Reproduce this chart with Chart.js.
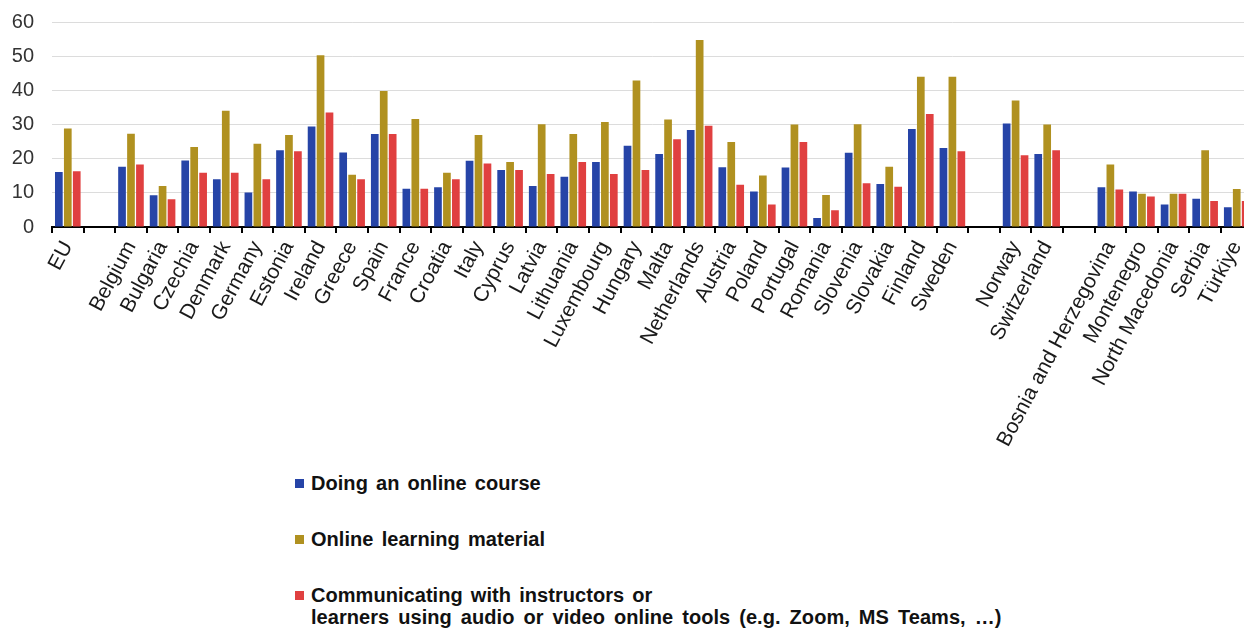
<!DOCTYPE html>
<html>
<head>
<meta charset="utf-8">
<script src="https://cdn.jsdelivr.net/npm/chart.js@4/dist/chart.umd.min.js"></script>
<style>
  html, body { margin: 0; padding: 0; background: #ffffff; overflow: hidden; width: 1244px; height: 630px; }
  #wrap { position: absolute; left: 0; top: -8px; width: 1263px; height: 463px; }
  #legend { position: absolute; left: 295px; top: 472px; font-family: "Liberation Sans", Arial, sans-serif; font-weight: bold; font-size: 20px; letter-spacing: 0.05px; word-spacing: 2.5px; color: #111; }
  .item { position: relative; padding-left: 16px; line-height: 22px; margin-bottom: 34px; white-space: nowrap; }
  .item .l2 { word-spacing: 3.4px; }
  .sw { position: absolute; left: 0; top: 7px; width: 9px; height: 9px; }
</style>
</head>
<body>
<div id="wrap"><canvas id="c"></canvas></div>
<div id="legend"></div>
<script>
const categories = ["EU", "", "Belgium", "Bulgaria", "Czechia", "Denmark", "Germany", "Estonia", "Ireland", "Greece", "Spain", "France", "Croatia", "Italy", "Cyprus", "Latvia", "Lithuania", "Luxembourg", "Hungary", "Malta", "Netherlands", "Austria", "Poland", "Portugal", "Romania", "Slovenia", "Slovakia", "Finland", "Sweden", " ", "Norway", "Switzerland", "  ", "Bosnia and Herzegovina", "Montenegro", "North Macedonia", "Serbia", "Türkiye"];

const onlineCourse = [16.1, null, 17.6, 9.3, 19.5, 14.0, 10.1, 22.5, 29.4, 21.8, 27.2, 11.2, 11.6, 19.4, 16.7, 12.0, 14.7, 19.0, 23.8, 21.4, 28.4, 17.5, 10.4, 17.4, 2.6, 21.7, 12.6, 28.7, 23.1, null, 30.3, 21.4, null, 11.6, 10.4, 6.6, 8.3, 5.8];

const learningMaterial = [28.8, null, 27.3, 12.0, 23.4, 34.0, 24.4, 26.9, 50.3, 15.3, 39.8, 31.6, 15.9, 26.9, 19.0, 30.1, 27.2, 30.7, 42.9, 31.5, 54.7, 24.9, 15.1, 30.0, 9.4, 30.1, 17.6, 44.0, 44.0, null, 37.0, 30.0, null, 18.3, 9.7, 9.7, 22.5, 11.1];

const communicating = [16.3, null, 18.3, 8.1, 15.9, 15.9, 14.0, 22.2, 33.5, 14.0, 27.2, 11.2, 14.0, 18.6, 16.7, 15.5, 19.0, 15.5, 16.7, 25.7, 29.6, 12.4, 6.6, 24.9, 4.9, 12.8, 11.8, 33.1, 22.2, null, 21.0, 22.5, null, 11.0, 8.9, 9.7, 7.6, 7.6];

const seriesNames = ["Doing an online course", "Online learning material", ["Communicating with instructors or", "learners using audio or video online tools (e.g. Zoom, MS Teams, …)"]];
const seriesColors = ["#2644A7", "#B09120", "#E04040"];
const yTicks = [0, 10, 20, 30, 40, 50, 60];

const font = "'Liberation Sans', Arial, sans-serif";

new Chart(document.getElementById('c'), {
  type: 'bar',
  data: {
    labels: categories,
    datasets: [onlineCourse, learningMaterial, communicating].map((d, i) => ({
      label: Array.isArray(seriesNames[i]) ? seriesNames[i].join(' ') : seriesNames[i],
      data: d,
      backgroundColor: seriesColors[i],
      borderWidth: 0,
      categoryPercentage: 0.85,
      barPercentage: 0.86
    }))
  },
  options: {
    responsive: true,
    maintainAspectRatio: false,
    animation: false,
    layout: { padding: { top: 16, right: 1, left: 0, bottom: 0 } },
    plugins: { legend: { display: false }, tooltip: { enabled: false } },
    scales: {
      x: {
        grid: { display: true, drawOnChartArea: false, drawTicks: true, tickLength: 6, color: '#000', lineWidth: 2, offset: true },
        border: { display: true, color: '#000', width: 2 },
        ticks: { autoSkip: false, minRotation: 62, maxRotation: 62, color: '#1a1a1a', padding: 4, font: { family: font, size: 21 } },
        afterFit: (s) => { s.height = 228; }
      },
      y: {
        min: 0, max: 60,
        afterBuildTicks: (s) => { s.ticks = yTicks.map(v => ({ value: v })); },
        grid: { color: '#dcdcdc', lineWidth: 1, drawTicks: false },
        border: { display: false },
        ticks: { color: '#333', padding: 18, font: { family: font, size: 20 } },
        afterFit: (s) => { s.width = 52; }
      }
    }
  }
});

const lg = document.getElementById('legend');
seriesNames.forEach((n, i) => {
  const d = document.createElement('div');
  d.className = 'item';
  const sw = document.createElement('span');
  sw.className = 'sw';
  sw.style.background = seriesColors[i];
  d.appendChild(sw);
  const lines = Array.isArray(n) ? n : [n];
  lines.forEach((t, k) => {
    if (k > 0) d.appendChild(document.createElement('br'));
    const sp = document.createElement('span');
    if (k > 0) sp.className = 'l2';
    sp.textContent = t;
    d.appendChild(sp);
  });
  lg.appendChild(d);
});
</script>
</body>
</html>
